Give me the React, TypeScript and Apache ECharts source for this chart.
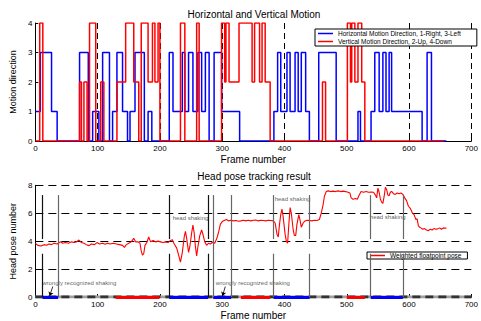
import React, { useEffect, useRef } from 'react';
import * as echarts from 'echarts';

// ---- Top chart: motion direction step series ----
const hFrames = [0, 8, 26, 35, 71, 85, 92, 102, 108, 119, 124, 131, 140, 148, 152, 160, 175, 181, 187, 215, 221, 236, 240, 246, 253, 261, 267, 273, 279, 287, 299, 328, 383, 389, 394, 404, 409, 417, 422, 427, 434, 440, 455, 483, 518, 522, 539, 545, 552, 558, 563, 568, 572, 621, 629, 636, 660];
const hValues = [1, 3, 1, 0, 3, 0, 1, 0, 3, 0, 1, 3, 1, 0, 1, 3, 0, 1, 0, 3, 1, 3, 1, 3, 1, 3, 1, 3, 0, 3, 1, 0, 1, 3, 1, 3, 1, 3, 1, 3, 1, 0, 3, 0, 1, 0, 1, 3, 1, 3, 1, 3, 1, 0, 3, 0, 0];
const vFrames = [0, 7, 12, 71, 74, 78, 83, 87, 97, 105, 110, 131, 145, 158, 166, 170, 181, 188, 192, 197, 200, 233, 240, 259, 263, 299, 304, 306, 311, 327, 348, 352, 360, 364, 369, 377, 461, 466, 501, 506, 508, 513, 518, 524, 529, 656];
const vValues = [0, 4, 0, 2, 0, 2, 0, 4, 0, 2, 0, 2, 4, 2, 0, 4, 2, 4, 2, 4, 0, 4, 0, 4, 0, 4, 2, 4, 2, 4, 2, 4, 2, 4, 2, 0, 2, 0, 4, 2, 4, 2, 4, 2, 0, 0];
const hName = 'Horizontal Motion Direction, 1-Right, 3-Left';
const vName = 'Vertical Motion Direction, 2-Up, 4-Down';

// ---- Bottom chart: head pose ----
const poseFrames = [0, 4, 9, 14, 18, 22, 26, 30, 35, 40, 44, 48, 53, 58, 62, 66, 70, 74, 78, 82, 86, 90, 95, 99, 103, 108, 112, 116, 120, 125, 130, 135, 140, 143, 146, 150, 154, 158, 161, 165, 168, 170, 172, 174, 176, 179, 182, 185, 189, 193, 197, 201, 205, 209, 213, 217, 220, 223, 227, 230, 233, 236, 239, 241, 243, 246, 248, 251, 253, 255, 257, 259, 261, 264, 267, 269, 272, 275, 278, 281, 284, 288, 291, 294, 297, 300, 304, 307, 310, 314, 318, 322, 326, 330, 334, 338, 342, 346, 350, 354, 358, 362, 366, 370, 374, 378, 382, 385, 388, 390, 392, 394, 396, 398, 401, 403, 405, 407, 409, 411, 414, 416, 418, 420, 423, 425, 427, 430, 433, 436, 440, 444, 448, 452, 456, 459, 462, 464, 467, 470, 474, 478, 482, 486, 490, 494, 498, 502, 505, 507, 510, 514, 517, 520, 523, 527, 531, 535, 539, 543, 546, 548, 550, 552, 554, 556, 558, 560, 562, 564, 566, 568, 570, 572, 575, 578, 581, 584, 587, 590, 593, 596, 599, 602, 605, 608, 611, 613, 615, 617, 619, 622, 625, 628, 631, 634, 637, 640, 643, 646, 649, 652, 655, 658, 660];
const poseValues = [3.85, 3.7, 3.65, 3.75, 3.7, 3.8, 3.75, 3.85, 3.8, 3.95, 3.85, 3.9, 3.85, 3.95, 3.9, 3.95, 4.08, 3.9, 3.85, 3.75, 3.68, 3.8, 3.75, 3.9, 3.8, 3.85, 3.78, 3.85, 3.8, 3.85, 3.8, 3.75, 3.7, 3.55, 3.75, 3.85, 3.95, 4.2, 3.95, 3.95, 3.85, 3.3, 3.0, 3.1, 3.7, 3.9, 4.3, 3.95, 4.05, 3.95, 4.0, 3.95, 3.9, 3.95, 3.9, 4.05, 4.1, 3.8, 3.5, 3.0, 2.5, 3.2, 4.3, 4.7, 4.2, 3.2, 3.6, 4.6, 5.15, 4.6, 3.6, 2.95, 3.6, 4.4, 4.8, 4.5, 3.95, 3.7, 3.85, 3.8, 3.9, 3.85, 4.15, 4.6, 5.2, 5.4, 5.5, 5.55, 5.45, 5.5, 5.45, 5.48, 5.43, 5.45, 5.5, 5.45, 5.5, 5.45, 5.5, 5.52, 5.45, 5.5, 5.48, 5.45, 5.5, 5.48, 5.45, 5.3, 4.5, 4.3, 5.2, 5.9, 6.3, 5.7, 4.5, 4.0, 3.85, 5.2, 6.4, 6.0, 4.8, 4.4, 4.4, 5.2, 5.9, 5.5, 5.0, 5.3, 5.45, 5.5, 5.48, 5.45, 5.5, 5.48, 5.55, 6.0, 6.6, 7.2, 7.55, 7.6, 7.55, 7.58, 7.55, 7.6, 7.55, 7.58, 7.55, 7.5, 7.45, 7.1, 7.0, 7.05, 7.0, 7.3, 7.55, 7.5, 7.55, 7.5, 7.52, 7.5, 7.3, 7.1, 7.8, 7.5, 7.0, 6.8, 6.7, 7.2, 7.85, 7.7, 7.3, 7.25, 7.5, 7.56, 7.4, 7.35, 7.45, 7.4, 7.45, 7.35, 7.1, 6.9, 6.5, 6.35, 6.05, 5.9, 5.55, 5.6, 5.1, 5.0, 4.95, 4.85, 4.9, 4.8, 4.75, 4.85, 4.8, 4.9, 4.85, 4.88, 4.95, 4.85, 4.95, 4.92, 4.95];
const poseName = 'Weighted floatpoint pose';

// recognized periods along the frame axis
const shakeStarts = [11.5, 214.7, 285.5, 382.6, 538.4];
const shakeEnds = [36.6, 277.6, 314.4, 440.3, 590];
const nodStarts = [129, 330, 500];
const nodEnds = [199, 377, 529];
// segment boundary lines
const boundaryFrames = [11.5, 36.6, 214.7, 277.6, 285.5, 314.4, 382.6, 440.3, 538.4, 590];
const boundaryDark = [true, false, true, true, false, false, false, false, false, false];
const boundaryGap = [true, false, true, true, false, false, true, true, true, true];
// annotations
const noteTexts = ['head shaking', 'head shaking', 'head shaking', 'wrongly recognized shaking', 'wrongly recognized shaking'];
const noteFrames = [220.5, 384.3, 537, 11, 289.8];
const noteValues = [5.64, 7.0, 5.72, 1.03, 1.03];
const arrowFromFrames = [28, 305];
const arrowToFrames = [23, 300.5];

const FONT = 'Liberation Sans, Arial, sans-serif';

export default function App() {
  const ref = useRef<HTMLDivElement>(null);
  useEffect(() => {
    const chart = echarts.init(ref.current!, null, { renderer: 'svg' });
    const zip = (a: number[], b: number[]) => a.map((x, i) => [x, b[i]]);
    const axisCommon = {
      axisLine: { show: true, onZero: false, lineStyle: { color: '#000', width: 1 } },
      axisTick: { show: true, inside: true, length: 3, lineStyle: { color: '#000' } },
      axisLabel: { color: '#000', fontSize: 8, fontFamily: FONT },
      nameLocation: 'middle' as const,
    };
    const boundaryData: any[] = [];
    boundaryFrames.forEach((f, i) => {
      const ls = { color: boundaryDark[i] ? '#111' : '#666', width: 1.2, type: 'solid' };
      if (boundaryGap[i]) {
        boundaryData.push([{ coord: [f, 0], lineStyle: ls }, { coord: [f, 3.1] }]);
        boundaryData.push([{ coord: [f, 4.15], lineStyle: ls }, { coord: [f, 7.3] }]);
      } else {
        boundaryData.push([{ coord: [f, 0], lineStyle: ls }, { coord: [f, 7.3] }]);
      }
    });
    const segs = (s: number[], e: number[], color: string) =>
      s.map((x, i) => [{ coord: [x, 0], lineStyle: { color, width: 3, type: 'solid' } }, { coord: [e[i], 0] }]);

    chart.setOption({
      animation: false,
      textStyle: { fontFamily: FONT },
      grid: [
        { left: 32, width: 444.5, top: 23, height: 118 },
        { left: 32, width: 444.5, top: 185.3, height: 118.7 },
      ],
      xAxis: [
        {
          ...axisCommon, gridIndex: 0, type: 'value', min: 0, max: 700, interval: 100,
          axisLabel: { ...axisCommon.axisLabel, margin: 3 },
          splitLine: { show: true, lineStyle: { color: '#000', type: [6, 4], width: 1 } },
          name: 'Frame number', nameGap: 13, nameTextStyle: { fontSize: 10, color: '#000', fontFamily: FONT },
        },
        {
          ...axisCommon, gridIndex: 1, type: 'value', min: 0, max: 700, interval: 100,
          axisLabel: { ...axisCommon.axisLabel, margin: 3 },
          splitLine: { show: false },
          name: 'Frame number', nameGap: 13, nameTextStyle: { fontSize: 10, color: '#000', fontFamily: FONT },
        },
      ],
      yAxis: [
        {
          ...axisCommon, gridIndex: 0, type: 'value', min: 0, max: 4, interval: 1,
          axisLabel: { ...axisCommon.axisLabel, margin: 3 },
          splitLine: { show: false },
          name: 'Motion direction', nameGap: 14, nameTextStyle: { fontSize: 9, color: '#000', fontFamily: FONT },
        },
        {
          ...axisCommon, gridIndex: 1, type: 'value', min: 0, max: 8, interval: 2,
          axisLabel: { ...axisCommon.axisLabel, margin: 3 },
          splitLine: { show: true, lineStyle: { color: '#000', type: [8, 5], width: 1 } },
          name: 'Head pose number', nameGap: 14, nameTextStyle: { fontSize: 9, color: '#000', fontFamily: FONT },
        },
      ],
      legend: [
        {
          data: [hName, vName], left: 315, top: 29, orient: 'vertical', icon: 'rect',
          itemWidth: 15, itemHeight: 1.5, itemGap: 1, padding: [1, 16, 1, 3],
          borderColor: '#000', borderWidth: 1, backgroundColor: '#fff',
          textStyle: { fontSize: 6.5, color: '#000', fontFamily: FONT },
        },
        {
          data: [poseName], left: 367, top: 252, orient: 'vertical', icon: 'rect',
          itemWidth: 14, itemHeight: 1.5, padding: [0, 6, 0, 4],
          borderColor: '#000', borderWidth: 1, backgroundColor: '#fff',
          textStyle: { fontSize: 6.5, color: '#000', fontFamily: FONT },
        },
      ],
      graphic: [
        { type: 'text', x: 254, y: 14, style: { text: 'Horizontal and Vertical Motion', fill: '#000', fontSize: 10, fontFamily: FONT, align: 'center', verticalAlign: 'middle', textAlign: 'center', textVerticalAlign: 'middle' } },
        { type: 'text', x: 254, y: 176, style: { text: 'Head pose tracking result', fill: '#000', fontSize: 10, fontFamily: FONT, align: 'center', verticalAlign: 'middle', textAlign: 'center', textVerticalAlign: 'middle' } },
      ],
      series: [
        {
          name: hName, type: 'line', step: 'end', xAxisIndex: 0, yAxisIndex: 0, showSymbol: false,
          data: zip(hFrames, hValues), lineStyle: { color: '#0000ff', width: 1.5 }, itemStyle: { color: '#0000ff' },
        },
        {
          name: vName, type: 'line', step: 'end', xAxisIndex: 0, yAxisIndex: 0, showSymbol: false,
          data: zip(vFrames, vValues), lineStyle: { color: '#ff0000', width: 1.5 }, itemStyle: { color: '#ff0000' },
        },
        {
          type: 'line', xAxisIndex: 1, yAxisIndex: 1, showSymbol: false, silent: true,
          data: [[0, 0], [700, 0]], lineStyle: { color: '#a0a0a0', width: 3 }, z: 3,
        },
        {
          type: 'line', xAxisIndex: 1, yAxisIndex: 1, showSymbol: false, silent: true,
          data: [[0, 0], [700, 0]], lineStyle: { color: '#333', width: 3, type: [8, 5] }, z: 3,
          markLine: {
            silent: true, symbol: ['none', 'none'], label: { show: false },
            data: [...segs(shakeStarts, shakeEnds, '#0000ff'), ...segs(nodStarts, nodEnds, '#ff0000')],
          },
        },
        {
          type: 'line', xAxisIndex: 1, yAxisIndex: 1, showSymbol: false, silent: true, data: [],
          markLine: { silent: true, symbol: ['none', 'none'], label: { show: false }, data: boundaryData },
        },
        {
          type: 'line', xAxisIndex: 1, yAxisIndex: 1, showSymbol: false, silent: true, data: [],
          markLine: {
            silent: true, symbol: ['none', 'arrow'], symbolSize: 4, label: { show: false },
            lineStyle: { color: '#000', width: 0.8, type: 'solid' },
            data: arrowFromFrames.map((f, i) => [{ coord: [f, 0.75] }, { coord: [arrowToFrames[i], 0.08] }]),
          },
        },
        {
          name: poseName, type: 'line', xAxisIndex: 1, yAxisIndex: 1, showSymbol: false,
          data: zip(poseFrames, poseValues), lineStyle: { color: '#ff0000', width: 1.1 }, itemStyle: { color: '#ff0000' }, z: 4,
        },
        {
          type: 'scatter', xAxisIndex: 1, yAxisIndex: 1, symbolSize: 0, silent: true,
          data: noteTexts.map((t, i) => ({ name: t, value: [noteFrames[i], noteValues[i]] })),
          label: { show: true, position: 'right', distance: 0, formatter: '{b}', fontSize: 6, color: '#333', fontFamily: FONT },
        },
      ],
    });
    return () => chart.dispose();
  }, []);
  return <div ref={ref} style={{ position: 'absolute', left: 0, top: 0, width: 481, height: 321 }} />;
}
